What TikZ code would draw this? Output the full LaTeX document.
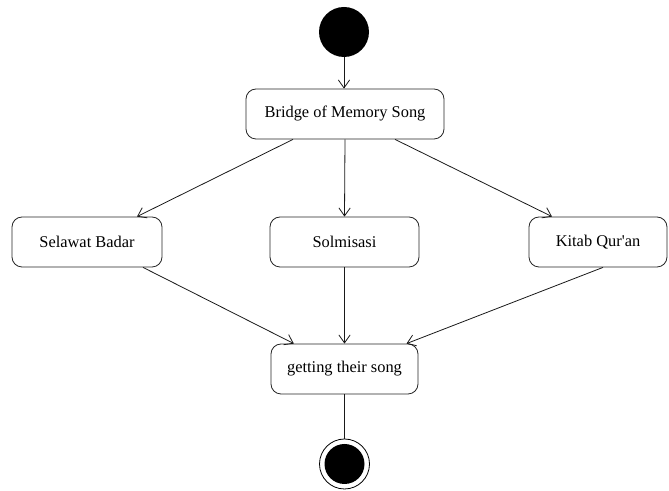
\documentclass[tikz,border=0pt]{standalone}
\usepackage{fontspec}
\setmainfont{Liberation Serif}[Ligatures=TeXOff]
\usetikzlibrary{arrows.meta}
\begin{document}
\begin{tikzpicture}[x=0.75pt,y=-0.75pt,
  action/.style={draw=black!85, line width=0.6pt, rounded corners=7.5pt,
    minimum height=37.5pt, inner sep=0pt, font=\fontsize{12.3}{14}\selectfont},
  initial/.style={circle, fill=black, minimum size=37.5pt, inner sep=0pt},
  final/.style={circle, draw=black, line width=0.6pt, minimum size=37.5pt, inner sep=0pt,
    path picture={\fill[black] (path picture bounding box.center) circle (15pt);}},
  flow/.style={draw=black!90, line width=0.6pt, -{Straight Barb[length=6pt,width=8.5pt]}},
  plain/.style={draw=black!90, line width=0.6pt}]
  \useasboundingbox (0,0) rectangle (669,491);

  % states
  \node[initial] (start) at (344,32) {};
  \node[action, minimum width=148.5pt] (bridge) at (345,114) {Bridge of Memory Song};
  \node[action, minimum width=112.5pt] (selawat) at (87,242) {Selawat Badar};
  \node[action, minimum width=111.75pt] (solmisasi) at (344.5,242) {Solmisasi};
  \node[action, minimum width=103.5pt] (kitab) at (598,242) {Kitab Qur'an};
  \node[action, minimum width=110.25pt] (getting) at (344.5,369) {getting their song};
  \node[final] (end) at (344.5,464) {};

  % transitions
  \draw[flow] (start) -- (start |- bridge.north);
  \draw[flow] ([xshift=-39pt]bridge.south) -- ([xshift=37.5pt]selawat.north);
  \draw[flow] (bridge.south) -- (solmisasi.north);
  \draw[flow] ([xshift=37.5pt]bridge.south) -- ([xshift=-34.5pt]kitab.north);
  \draw[flow] ([xshift=42pt]selawat.south) -- ([xshift=-38pt]getting.north);
  \draw[flow] (solmisasi.south) -- (getting.north);
  \draw[flow] ([xshift=3.75pt]kitab.south) -- ([xshift=46.5pt]getting.north);
  \draw[plain] (getting.south) -- (end.north);
\end{tikzpicture}
\end{document}
